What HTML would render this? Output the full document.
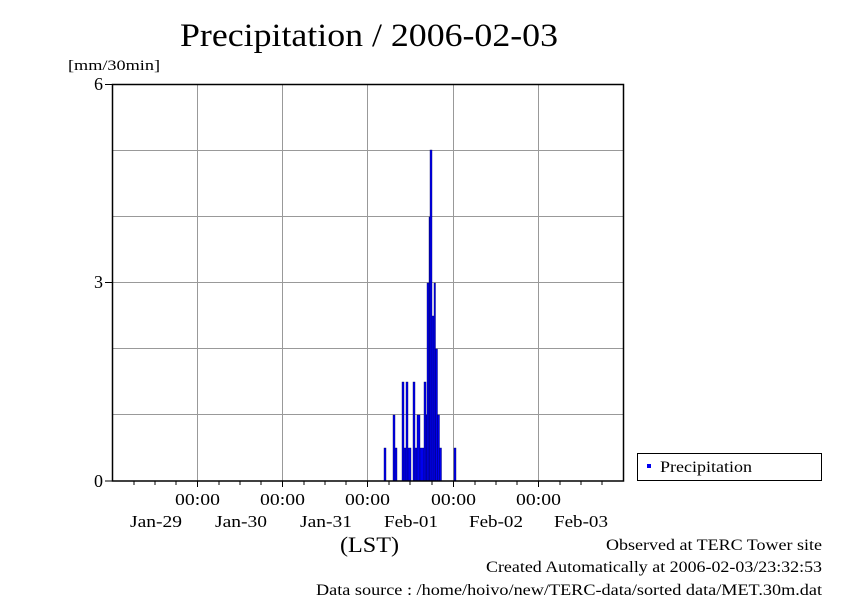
<!DOCTYPE html>
<html><head><style>
body{margin:0;background:#fff}
svg text{font-family:"Liberation Serif",serif;fill:#000}
</style></head><body>
<svg width="842" height="595" xmlns="http://www.w3.org/2000/svg">
<text x="180" y="46" font-size="33" textLength="378" lengthAdjust="spacingAndGlyphs">Precipitation / 2006-02-03</text>
<text x="68" y="70" font-size="15" textLength="92" lengthAdjust="spacingAndGlyphs">[mm/30min]</text>
<g stroke="#999" stroke-width="1">
<line x1="197.5" y1="84" x2="197.5" y2="481"/><line x1="282.5" y1="84" x2="282.5" y2="481"/>
<line x1="367.5" y1="84" x2="367.5" y2="481"/><line x1="453.5" y1="84" x2="453.5" y2="481"/>
<line x1="538.5" y1="84" x2="538.5" y2="481"/>
<line x1="113" y1="150.5" x2="624" y2="150.5"/><line x1="113" y1="216.5" x2="624" y2="216.5"/>
<line x1="113" y1="282.5" x2="624" y2="282.5"/><line x1="113" y1="348.5" x2="624" y2="348.5"/>
<line x1="113" y1="414.5" x2="624" y2="414.5"/>
</g>
<g fill="#0000ee" stroke="#000060" stroke-width="0.4">
<rect x="384" y="448" width="2" height="33"/>
<rect x="393" y="415" width="2" height="66"/>
<rect x="395" y="448" width="2" height="33"/>
<rect x="402" y="382" width="2" height="99"/>
<rect x="404" y="448" width="2" height="33"/>
<rect x="406" y="382" width="2" height="99"/>
<rect x="408" y="448" width="3" height="33"/>
<rect x="413" y="382" width="2" height="99"/>
<rect x="415" y="448" width="2" height="33"/>
<rect x="417" y="415" width="3" height="66"/>
<rect x="420" y="448" width="4" height="33"/>
<rect x="424" y="382" width="2" height="99"/>
<rect x="426" y="415" width="1" height="66"/>
<rect x="427" y="283" width="2" height="198"/>
<rect x="429" y="217" width="1" height="264"/>
<rect x="430" y="150" width="2" height="331"/>
<rect x="432" y="316" width="2" height="165"/>
<rect x="434" y="283" width="1.5" height="198"/>
<rect x="435.5" y="349" width="2" height="132"/>
<rect x="437.5" y="415" width="2" height="66"/>
<rect x="439.5" y="448" width="2" height="33"/>
<rect x="454" y="448" width="2" height="33"/>
</g>
<rect x="112.5" y="84.5" width="511" height="396.5" fill="none" stroke="#000" stroke-width="1.5"/>
<g stroke="#000" stroke-width="1">
<line x1="105" y1="84.5" x2="112" y2="84.5"/><line x1="105" y1="282.5" x2="112" y2="282.5"/><line x1="105" y1="481" x2="112" y2="481"/>
<line x1="197.5" y1="481" x2="197.5" y2="487"/><line x1="282.5" y1="481" x2="282.5" y2="487"/>
<line x1="367.5" y1="481" x2="367.5" y2="487"/><line x1="453.5" y1="481" x2="453.5" y2="487"/>
<line x1="538.5" y1="481" x2="538.5" y2="487"/>
</g>
<g stroke="#000" stroke-width="1">
<line x1="134" y1="481" x2="134" y2="485"/><line x1="155" y1="481" x2="155" y2="485"/><line x1="176" y1="481" x2="176" y2="485"/>
<line x1="219" y1="481" x2="219" y2="485"/><line x1="240" y1="481" x2="240" y2="485"/><line x1="261" y1="481" x2="261" y2="485"/>
<line x1="304" y1="481" x2="304" y2="485"/><line x1="325" y1="481" x2="325" y2="485"/><line x1="346" y1="481" x2="346" y2="485"/>
<line x1="389" y1="481" x2="389" y2="485"/><line x1="410" y1="481" x2="410" y2="485"/><line x1="432" y1="481" x2="432" y2="485"/>
<line x1="475" y1="481" x2="475" y2="485"/><line x1="496" y1="481" x2="496" y2="485"/><line x1="517" y1="481" x2="517" y2="485"/>
<line x1="560" y1="481" x2="560" y2="485"/><line x1="581" y1="481" x2="581" y2="485"/><line x1="602" y1="481" x2="602" y2="485"/>
</g>
<g font-size="18" text-anchor="end">
<text x="103" y="90">6</text><text x="103" y="288">3</text><text x="103" y="487">0</text>
</g>
<g font-size="17">
<text x="175" y="505" textLength="45" lengthAdjust="spacingAndGlyphs">00:00</text>
<text x="260" y="505" textLength="45" lengthAdjust="spacingAndGlyphs">00:00</text>
<text x="345" y="505" textLength="45" lengthAdjust="spacingAndGlyphs">00:00</text>
<text x="431" y="505" textLength="45" lengthAdjust="spacingAndGlyphs">00:00</text>
<text x="516" y="505" textLength="45" lengthAdjust="spacingAndGlyphs">00:00</text>
<text x="130" y="527" textLength="52" lengthAdjust="spacingAndGlyphs">Jan-29</text>
<text x="215" y="527" textLength="52" lengthAdjust="spacingAndGlyphs">Jan-30</text>
<text x="300" y="527" textLength="52" lengthAdjust="spacingAndGlyphs">Jan-31</text>
<text x="384" y="527" textLength="54" lengthAdjust="spacingAndGlyphs">Feb-01</text>
<text x="469" y="527" textLength="54" lengthAdjust="spacingAndGlyphs">Feb-02</text>
<text x="554" y="527" textLength="54" lengthAdjust="spacingAndGlyphs">Feb-03</text>
<text x="340" y="552" font-size="22" textLength="59" lengthAdjust="spacingAndGlyphs">(LST)</text>
</g>
<rect x="637.5" y="453.5" width="184" height="27" fill="#fff" stroke="#000"/>
<rect x="647" y="464" width="4" height="4" fill="#0000ee"/>
<text x="660" y="472" font-size="16" textLength="92" lengthAdjust="spacingAndGlyphs">Precipitation</text>
<g font-size="16">
<text x="606" y="550" textLength="216" lengthAdjust="spacingAndGlyphs">Observed at TERC Tower site</text>
<text x="486" y="572" textLength="336" lengthAdjust="spacingAndGlyphs">Created Automatically at 2006-02-03/23:32:53</text>
<text x="316" y="595" textLength="506" lengthAdjust="spacingAndGlyphs">Data source : /home/hoivo/new/TERC-data/sorted  data/MET.30m.dat</text>
</g>
</svg>
</body></html>
